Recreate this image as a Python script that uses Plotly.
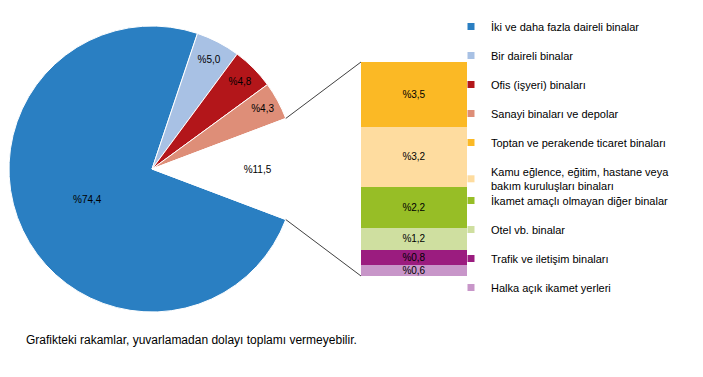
import math
import plotly.graph_objects as go

W, H = 703, 377

pie_labels = ["İki ve daha fazla daireli binalar", "Bir daireli binalar",
              "Ofis (işyeri) binaları", "Sanayi binaları ve depolar"]
pie_values = [74.4, 5.0, 4.8, 4.3]
pie_colors = ["#2A7FC2", "#A8C1E4", "#B3161A", "#DE8E78"]

other_label = "Diğer"
other_value = 11.5

bar_labels = ["Toptan ve perakende ticaret binaları",
              "Kamu eğlence, eğitim, hastane veya<br>bakım kuruluşları binaları",
              "İkamet amaçlı olmayan diğer binalar", "Otel vb. binalar",
              "Trafik ve iletişim binaları", "Halka açık ikamet yerleri"]
bar_values = [3.5, 3.2, 2.2, 1.2, 0.8, 0.6]
bar_colors = ["#FBB925", "#FEDC9F", "#97BE26", "#CFDFA0", "#9B1C7F", "#C896C9"]

footnote = "Grafikteki rakamlar, yuvarlamadan dolayı toplamı vermeyebilir."


def pct(v):
    return "%" + f"{v:.1f}".replace(".", ",")


FONT = "Liberation Sans, Arial, sans-serif"

# pie geometry (pixels)
pcx, pcy, pr = 152, 169, 143
pie_dom_x = [(pcx - pr) / W, (pcx + pr) / W]
pie_dom_y = [1 - (pcy + pr) / H, 1 - (pcy - pr) / H]

all_vals = pie_values + [other_value]
total = sum(all_vals)
half_angle = other_value / total * 180.0

fig = go.Figure()
fig.add_trace(go.Pie(
    labels=pie_labels + [other_label],
    values=all_vals,
    text=[pct(v) for v in all_vals],
    textinfo="text",
    textposition="inside",
    insidetextorientation="horizontal",
    textfont=dict(family=FONT, size=10, color="black"),
    marker=dict(colors=pie_colors + ["#FFFFFF"], line=dict(color="white", width=1)),
    sort=False,
    direction="clockwise",
    rotation=90 + half_angle,
    domain=dict(x=pie_dom_x, y=pie_dom_y),
    showlegend=False,
    hoverinfo="label+value",
))

# stacked bar (bottom to top)
bx0, bx1, by_top, by_bot = 361, 467, 62, 276
for lab, v, c in reversed(list(zip(bar_labels, bar_values, bar_colors))):
    fig.add_trace(go.Bar(
        x=[other_label], y=[v], name=lab,
        marker=dict(color=c, line=dict(width=0)),
        text=[pct(v)], textposition="inside", insidetextanchor="middle",
        constraintext="none",
        textfont=dict(family=FONT, size=10, color="black"),
        showlegend=False, width=1,
    ))

# legend entries
legend_items = list(zip(pie_labels + bar_labels, pie_colors + bar_colors))
for i, (lab, c) in enumerate(legend_items):
    leg = "legend" if i < 5 else ("legend2" if i == 5 else "legend3")
    fig.add_trace(go.Scatter(
        x=[None], y=[None], mode="markers",
        marker=dict(symbol="square", size=7, color=c),
        name=lab, legend=leg, legendgroup=str(i), showlegend=True,
        hoverinfo="skip",
    ))

# connector lines
ang = math.radians(half_angle)
px_up = (pcx + pr * math.cos(ang), pcy - pr * math.sin(ang))
px_dn = (pcx + pr * math.cos(ang), pcy + pr * math.sin(ang))
shapes = [
    dict(type="line", xref="paper", yref="paper",
         x0=px_up[0] / W, y0=1 - px_up[1] / H, x1=bx0 / W, y1=1 - by_top / H,
         line=dict(color="#404040", width=1)),
    dict(type="line", xref="paper", yref="paper",
         x0=px_dn[0] / W, y0=1 - px_dn[1] / H, x1=bx0 / W, y1=1 - by_bot / H,
         line=dict(color="#404040", width=1)),
]

leg_common = dict(font=dict(family=FONT, size=11, color="black"),
                  bgcolor="rgba(0,0,0,0)", xanchor="left", yanchor="top",
                  itemclick=False, itemdoubleclick=False, tracegroupgap=10)

LX = 451 / W
fig.update_layout(
    width=W, height=H,
    margin=dict(l=0, r=0, t=0, b=0),
    paper_bgcolor="white", plot_bgcolor="white",
    barmode="stack",
    xaxis=dict(domain=[bx0 / W, bx1 / W], range=[-0.5, 0.5], visible=False,
               fixedrange=True),
    yaxis=dict(domain=[1 - by_bot / H, 1 - by_top / H], range=[0, sum(bar_values)],
               visible=False, fixedrange=True),
    legend=dict(x=LX, y=1 - 12 / H, **leg_common),
    legend2=dict(x=LX, y=1 - 158 / H, **leg_common),
    legend3=dict(x=LX, y=1 - 186 / H, **leg_common),
    shapes=shapes,
    annotations=[dict(text=footnote, x=24 / W, y=1 - 340 / H, xref="paper", yref="paper",
                      xanchor="left", yanchor="middle", showarrow=False,
                      font=dict(family=FONT, size=12, color="black"))],
    showlegend=True,
)

fig.write_html("out.html", config={"displayModeBar": False},
               post_script="document.body.style.margin='0px';")
